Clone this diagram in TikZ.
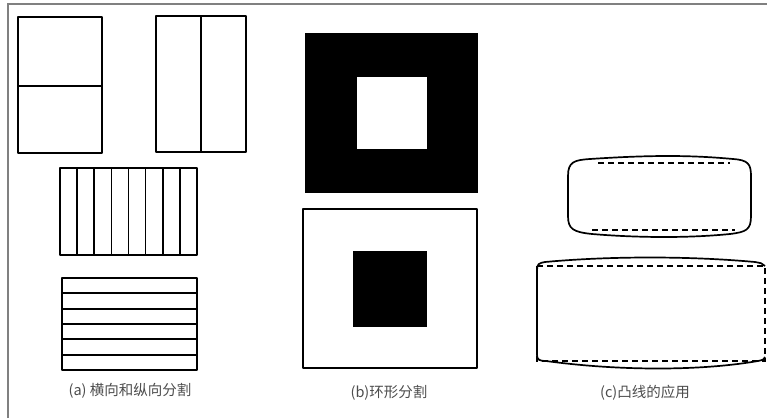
\documentclass[tikz,border=0pt]{standalone}
\usepackage{fontspec}
\newfontfamily\cjk{Noto Sans CJK SC}
\usetikzlibrary{positioning}

\begin{document}
\begin{tikzpicture}[x=1pt,y=-1pt,
  outline/.style={draw,line width=1.7pt,line join=round},
  dash line/.style={draw,line width=1.3pt,dash pattern=on 6pt off 4pt},
  solid fill/.style={fill=black},
  caption/.style={font=\cjk\fontsize{14.5}{16}\selectfont,text=black!70,inner sep=1pt}]

\useasboundingbox (0,0) rectangle (767,418);

% page frame
\draw[gray,line width=1.5pt] (8,418) -- (8,4) -- (767,4);

% (a) horizontal and vertical division
\draw[outline] (18,17) rectangle (102,153);
\draw[outline] (18,86) -- (102,86);
\draw[outline] (156,16) rectangle (246,152);
\draw[outline] (201,16) -- (201,152);
\draw[outline] (60,168) rectangle (197,255);
\foreach \i in {1,...,7}
  \draw[outline] ({60+\i*137/8},168) -- ({60+\i*137/8},255);
\draw[outline] (62,278) rectangle (197,370);
\foreach \i in {1,...,5}
  \draw[outline] (62,{278+\i*92/6}) -- (197,{278+\i*92/6});
\node[caption] (capa) at (130,391) {(a) 横向和纵向分割};

% (b) ring division
\fill[solid fill] (305,33) rectangle (478,193);
\fill[white] (357,77) rectangle (427,149);
\draw[outline] (303,209) rectangle (477,368);
\fill[solid fill] (353,251) rectangle (427,327);
\node[caption] (capb) at (389,393) {(b)环形分割};

% (c) use of convex lines
\draw[outline] (568,176) .. controls (568,162) and (574,160) .. (590,159)
  .. controls (650,155) and (690,155) .. (733,159)
  .. controls (748,160) and (751,164) .. (751,176) -- (751,216)
  .. controls (751,230) and (746,232) .. (730,234)
  .. controls (690,238) and (640,238) .. (592,234)
  .. controls (573,232) and (568,229) .. (568,216) -- cycle;
\draw[dash line] (598,163) -- (730,163);
\draw[dash line] (592,230) -- (735,230);
\draw[outline] (765,266) .. controls (763,263) and (760,263) .. (755,262)
  .. controls (690,256) and (610,256) .. (545,262)
  .. controls (539,263) and (537,264) .. (537,270) -- (537,355)
  .. controls (537,360) and (540,361) .. (546,361)
  .. controls (620,371) and (700,371) .. (758,361)
  .. controls (763,360) and (765,359) .. (765,357);
\draw[dash line] (537,266) rectangle (765,361);
\node[caption] (capc) at (645,393) {(c)凸线的应用};
\end{tikzpicture}
\end{document}
